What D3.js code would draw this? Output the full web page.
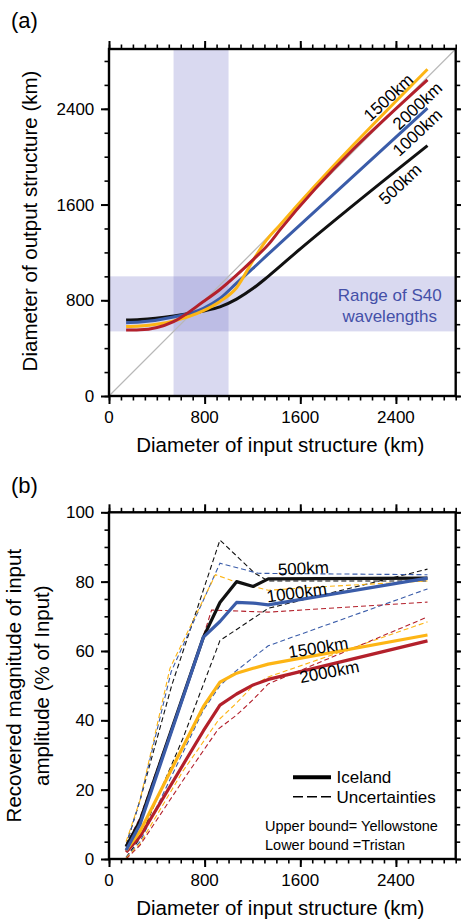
<!DOCTYPE html>
<html>
<head>
<meta charset="utf-8">
<script src="https://cdn.jsdelivr.net/npm/d3@7"></script>
<style>
  html, body { margin: 0; padding: 0; background: #fff; }
  svg { display: block; font-family: "Liberation Sans", Arial, Helvetica, sans-serif; }
</style>
</head>
<body>
<svg id="chart" width="461" height="923"></svg>
<script>
// ---------- Panel (a): output vs input diameter (km) ----------
const a500  = [[143,635],[260,640],[540,669],[790,710],[928,745],[1067,810],[1206,900],[1332,1000],[1600,1230],[2000,1560],[2664,2093]];
const a1000 = [[143,613],[260,618],[540,660],[790,733],[928,815],[1067,943],[1206,1068],[1332,1186],[1430,1276],[2664,2405]];
const a1500 = [[143,580],[260,585],[540,627],[790,713],[928,790],[1067,905],[1206,1135],[1300,1280],[1430,1430],[2664,2731]];
const a2000 = [[143,552],[260,553],[540,621],[790,789],[928,890],[1067,1010],[1206,1140],[1332,1265],[1430,1388],[2664,2642]];
const aLabels = ["500km", "1000km", "1500km", "2000km"];
const s40Range = [540, 1000];
const axisTicksA = [0, 800, 1600, 2400];

// ---------- Panel (b): recovered amplitude (% of input) ----------
// Iceland (solid)
const b500  = [[143,3.5],[260,11],[790,64],[928,74],[1067,80],[1206,78.6],[1332,80.8],[2664,81]];
const b1000 = [[143,2.5],[260,10],[790,64],[928,68.5],[1067,74],[1206,73.8],[1332,73.3],[2664,81]];
const b1500 = [[143,2.5],[260,8],[790,44],[928,51],[1067,53.6],[1206,55],[1332,56.2],[2664,64.6]];
const b2000 = [[143,2],[260,6.5],[790,37],[928,44.4],[1067,47.6],[1206,50.2],[1332,51.8],[2664,62.9]];
// Upper bound = Yellowstone (dashed)
const up500  = [[143,4],[260,17],[524,50],[928,92],[1220,82.4],[1332,80.2],[2664,80.2]];
const up1000 = [[143,4],[260,17],[520,54],[928,85.3],[1248,82.4],[2664,82]];
const up1500 = [[143,5],[260,17],[510,55],[890,82],[1053,80],[1332,77.5],[1764,78.5],[2664,80.2]];
const up2000 = [[143,4],[260,12],[761,61.2],[858,71.8],[1332,71.2],[2664,74.1]];
// Lower bound = Tristan (dashed)
const lo500  = [[143,0.5],[260,6],[621,35],[928,63],[1332,72.3],[2664,83.6]];
const lo1000 = [[143,0.5],[260,5],[790,43],[928,50],[1039,53.6],[1332,61.5],[2664,77.9]];
const lo1500 = [[143,0.3],[260,4.5],[621,25.5],[914,40],[1067,45],[1206,50],[1332,52.5],[2664,68.4]];
const lo2000 = [[143,0],[260,4],[621,22.8],[914,37.5],[1067,41.5],[1206,46],[1332,50.5],[2664,69.8]];
const bLabels = ["500km", "1000km", "1500km", "2000km"];
const axisTicksB = [0, 20, 40, 60, 80, 100];
const legendItems = ["Iceland", "Uncertainties"];
const boundNotes = ["Upper bound= Yellowstone", "Lower bound =Tristan"];

const colors = { k500: "#111111", k1000: "#3a5ca9", k1500: "#fdb515", k2000: "#b3202b" };
const FONT_TICK = 17, FONT_TITLE = 20.5;

const svg = d3.select("#chart");

function frame(g, x, y, w, h, xMajor, xMinor, yMajor, yMinor, yFmt) {
  // minor and major ticks on all four sides, pointing outward
  const minorLen = 4.5, majorLen = 8;
  const sides = [
    [d3.axisBottom(x), `translate(0,${h})`, xMinor, xMajor],
    [d3.axisTop(x), null, xMinor, xMajor],
    [d3.axisLeft(y), null, yMinor, yMajor],
    [d3.axisRight(y), `translate(${w},0)`, yMinor, yMajor]
  ];
  sides.forEach(([ax, tr, minor, major]) => {
    const gm = g.append("g");
    if (tr) gm.attr("transform", tr);
    gm.call(ax.tickValues(minor).tickSize(minorLen).tickSizeOuter(0).tickFormat(""));
    gm.select(".domain").remove();
    gm.selectAll("line").attr("stroke", "#000").attr("stroke-width", 1.6);
    const gM = g.append("g");
    if (tr) gM.attr("transform", tr);
    gM.call(ax.tickValues(major).tickSize(majorLen).tickSizeOuter(0).tickFormat(""));
    gM.select(".domain").remove();
    gM.selectAll("line").attr("stroke", "#000").attr("stroke-width", 2);
  });
  // tick labels bottom / left
  g.append("g").selectAll("text").data(xMajor).join("text")
    .attr("x", d => x(d)).attr("y", h + 27)
    .attr("text-anchor", "middle").attr("font-size", FONT_TICK).text(d => d);
  g.append("g").selectAll("text").data(yMajor).join("text")
    .attr("x", -14.7).attr("y", d => y(d)).attr("dy", "0.36em")
    .attr("text-anchor", "end").attr("font-size", FONT_TICK).text(yFmt);
  g.append("rect").attr("x", 0).attr("y", 0).attr("width", w).attr("height", h)
    .attr("fill", "none").attr("stroke", "#000").attr("stroke-width", 2.4);
}

// ================= Panel (a) =================
{
  const L = 109, T = 49, w = 346.7, h = 347;
  const x = d3.scaleLinear().domain([0, 2900]).range([0, w]);
  const y = d3.scaleLinear().domain([0, 2900]).range([h, 0]);
  const g = svg.append("g").attr("transform", `translate(${L},${T})`);

  // S40 wavelength bands
  g.append("rect").attr("x", x(s40Range[0])).attr("y", 0)
    .attr("width", x(s40Range[1]) - x(s40Range[0])).attr("height", h)
    .attr("fill", "rgb(120,120,200)").attr("opacity", 0.28);
  g.append("rect").attr("x", 0).attr("y", y(s40Range[1]))
    .attr("width", w).attr("height", y(s40Range[0]) - y(s40Range[1]))
    .attr("fill", "rgb(120,120,200)").attr("opacity", 0.28);

  // 1:1 reference line
  g.append("line").attr("x1", x(0)).attr("y1", y(0)).attr("x2", x(2900)).attr("y2", y(2900))
    .attr("stroke", "#b8b8b8").attr("stroke-width", 1.2);

  const line = d3.line().x(d => x(d[0])).y(d => y(d[1])).curve(d3.curveMonotoneX);
  [[a500, colors.k500], [a1000, colors.k1000], [a1500, colors.k1500], [a2000, colors.k2000]]
    .forEach(([data, c]) => {
      g.append("path").datum(data).attr("d", line).attr("fill", "none")
        .attr("stroke", c).attr("stroke-width", 3).attr("stroke-linejoin", "round");
    });

  // curve labels, rotated along the lines
  const labPos = [[400 - L, 184 - T], [417.3 - L, 132.3 - T], [388.3 - L, 97.3 - T], [417.3 - L, 105.7 - T]];
  aLabels.forEach((t, i) => {
    g.append("text").attr("transform", `translate(${labPos[i][0]},${labPos[i][1]}) rotate(-43)`)
      .attr("text-anchor", "middle").attr("dy", "0.35em").attr("font-size", 17).text(t);
  });

  // band annotation
  g.append("text").attr("x", 389.7 - L).attr("y", 301 - T).attr("text-anchor", "middle")
    .attr("font-size", 17).attr("fill", "#4450a8").text("Range of S40");
  g.append("text").attr("x", 389.7 - L).attr("y", 321.5 - T).attr("text-anchor", "middle")
    .attr("font-size", 17).attr("fill", "#4450a8").text("wavelengths");

  frame(g, x, y, w, h, axisTicksA, d3.range(0, 2901, 100), axisTicksA, d3.range(0, 2901, 200), d => d);

  g.append("text").attr("x", w / 2 - 2).attr("y", 451.5 - T).attr("text-anchor", "middle")
    .attr("font-size", FONT_TITLE).text("Diameter of input structure (km)");
  g.append("text").attr("transform", `translate(${37 - L},${221 - T}) rotate(-90)`)
    .attr("text-anchor", "middle").attr("font-size", FONT_TITLE).text("Diameter of output structure (km)");
  svg.append("text").attr("x", 11).attr("y", 28).attr("font-size", 22).text("(a)");
}

// ================= Panel (b) =================
{
  const L = 109, T = 512.3, w = 346.7, h = 346.7;
  const x = d3.scaleLinear().domain([0, 2900]).range([0, w]);
  const y = d3.scaleLinear().domain([0, 100]).range([h, 0]);
  const g = svg.append("g").attr("transform", `translate(${L},${T})`);
  const line = d3.line().x(d => x(d[0])).y(d => y(d[1]));

  const dashed = [[up500, colors.k500], [lo500, colors.k500], [up1000, colors.k1000], [lo1000, colors.k1000],
                  [up1500, colors.k1500], [lo1500, colors.k1500], [up2000, colors.k2000], [lo2000, colors.k2000]];
  dashed.forEach(([data, c]) => {
    g.append("path").datum(data).attr("d", line).attr("fill", "none")
      .attr("stroke", c).attr("stroke-width", 1.1).attr("stroke-dasharray", "5,3");
  });
  [[b2000, colors.k2000], [b1500, colors.k1500], [b500, colors.k500], [b1000, colors.k1000]]
    .forEach(([data, c]) => {
      g.append("path").datum(data).attr("d", line).attr("fill", "none")
        .attr("stroke", c).attr("stroke-width", 3.2).attr("stroke-linejoin", "round");
    });

  const labPos = [[303.3, 568.3, -3], [296.7, 592.5, -8], [318.3, 647.5, -9], [329.3, 671.7, -11]];
  bLabels.forEach((t, i) => {
    g.append("text").attr("transform", `translate(${labPos[i][0] - L},${labPos[i][1] - T}) rotate(${labPos[i][2]})`)
      .attr("text-anchor", "middle").attr("dy", "0.35em").attr("font-size", 17).text(t);
  });

  // legend
  g.append("line").attr("x1", 293 - L).attr("x2", 331 - L).attr("y1", 777.3 - T).attr("y2", 777.3 - T)
    .attr("stroke", "#000").attr("stroke-width", 4);
  g.append("line").attr("x1", 293 - L).attr("x2", 331 - L).attr("y1", 796.7 - T).attr("y2", 796.7 - T)
    .attr("stroke", "#000").attr("stroke-width", 1.4).attr("stroke-dasharray", "10,4");
  legendItems.forEach((t, i) => {
    g.append("text").attr("x", 336.5 - L).attr("y", [777.3, 796.7][i] - T).attr("dy", "0.36em")
      .attr("font-size", 17).text(t);
  });
  boundNotes.forEach((t, i) => {
    g.append("text").attr("x", 265 - L).attr("y", [826, 845][i] - T).attr("dy", "0.36em")
      .attr("font-size", 14.5).text(t);
  });

  frame(g, x, y, w, h, axisTicksA, d3.range(0, 2901, 100), axisTicksB, d3.range(0, 101, 5), d => d);

  g.append("text").attr("x", w / 2 - 2).attr("y", 915 - T).attr("text-anchor", "middle")
    .attr("font-size", FONT_TITLE).text("Diameter of input structure (km)");
  g.append("text").attr("transform", `translate(${21 - L},${h / 2}) rotate(-90)`)
    .attr("text-anchor", "middle").attr("font-size", FONT_TITLE).text("Recovered magnitude of input");
  g.append("text").attr("transform", `translate(${49 - L},${h / 2}) rotate(-90)`)
    .attr("text-anchor", "middle").attr("font-size", FONT_TITLE).text("amplitude (% of Input)");
  svg.append("text").attr("x", 11).attr("y", 493).attr("font-size", 22).text("(b)");
}
</script>
</body>
</html>
